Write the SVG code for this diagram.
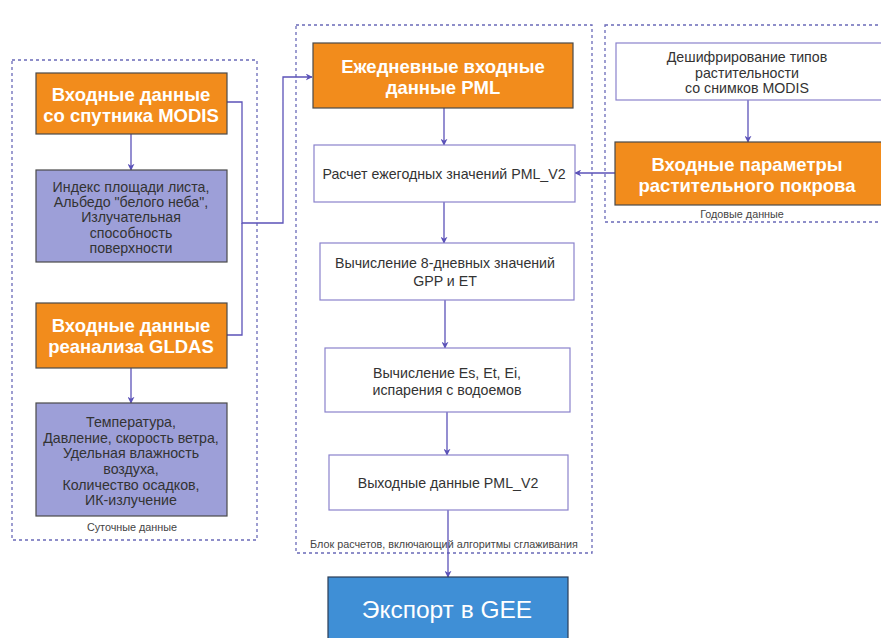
<svg xmlns="http://www.w3.org/2000/svg" width="881" height="638" viewBox="0 0 881 638">
<defs>
<style>
.grp{fill:none;stroke:#6a6ab8;stroke-width:1.3;stroke-dasharray:3,3}
.or{fill:#f28c1c;stroke:#4a4a4a;stroke-width:1.2}
.pu{fill:#9d9fd8;stroke:#4a4a4a;stroke-width:1.2}
.wh{fill:#fff;stroke:#8a82cc;stroke-width:1.2}
.bl{fill:#3f8fd6;stroke:#2b3d55;stroke-width:1.2}
.tw{font-family:"Liberation Sans",Arial,sans-serif;font-weight:bold;font-size:18.5px;fill:#fff;text-anchor:middle}
.td{font-family:"Liberation Sans",Arial,sans-serif;font-size:14.2px;fill:#333;text-anchor:middle}
.ts{font-family:"Liberation Sans",Arial,sans-serif;font-size:10.8px;fill:#444;text-anchor:middle}
.tg{font-family:"Liberation Sans",Arial,sans-serif;font-size:24.5px;fill:#fff;text-anchor:middle}
.cn{fill:none;stroke:#5b52b8;stroke-width:1.3}
</style>
<marker id="ar" viewBox="0 0 10 10" refX="9" refY="5" markerWidth="7" markerHeight="7" orient="auto" markerUnits="userSpaceOnUse">
<path d="M0,0 L10,5 L0,10 L3,5 z" fill="#5b52b8"/>
</marker>
</defs>
<rect width="881" height="638" fill="#fff"/>

<g id="group-daily">
<rect class="grp" x="12" y="60" width="245" height="480"/>
<text class="ts" x="132" y="531">Суточные данные</text>
</g>
<g id="group-calc">
<rect class="grp" x="296" y="25" width="296" height="528"/>
<text class="ts" x="444" y="548">Блок расчетов, включающий алгоритмы сглаживания</text>
</g>
<g id="group-annual">
<rect class="grp" x="605" y="25" width="290" height="197"/>
<text class="ts" x="742" y="218">Годовые данные</text>
</g>

<g id="connectors">
<path class="cn" d="M227,102 H242 V223 H283 V77 H312" marker-end="url(#ar)"/>
<path class="cn" d="M227,335 H242 V223"/>
<path class="cn" d="M131,134 V170" marker-end="url(#ar)"/>
<path class="cn" d="M131,368 V403" marker-end="url(#ar)"/>
<path class="cn" d="M444,108 V145" marker-end="url(#ar)"/>
<path class="cn" d="M444,202 V243" marker-end="url(#ar)"/>
<path class="cn" d="M445,300 V348" marker-end="url(#ar)"/>
<path class="cn" d="M447,412 V455" marker-end="url(#ar)"/>
<path class="cn" d="M448,510 V577" marker-end="url(#ar)"/>
<path class="cn" d="M748,100 V142" marker-end="url(#ar)"/>
<path class="cn" d="M615,173 H575" marker-end="url(#ar)"/>
</g>

<g id="modis-input">
<rect class="or" x="36" y="73" width="191" height="61"/>
<text class="tw" x="131" y="101">Входные данные</text>
<text class="tw" x="131" y="122">со спутника MODIS</text>
</g>
<g id="modis-params">
<rect class="pu" x="36" y="170" width="191" height="92"/>
<text class="td" x="131" y="192">Индекс площади листа,</text>
<text class="td" x="131" y="207">Альбедо "белого неба",</text>
<text class="td" x="131" y="222">Излучательная</text>
<text class="td" x="131" y="238">способность</text>
<text class="td" x="131" y="253">поверхности</text>
</g>
<g id="gldas-input">
<rect class="or" x="36" y="303" width="191" height="65"/>
<text class="tw" x="131" y="332">Входные данные</text>
<text class="tw" x="131" y="353">реанализа GLDAS</text>
</g>
<g id="gldas-params">
<rect class="pu" x="36" y="403" width="191" height="113"/>
<text class="td" x="131" y="427">Температура,</text>
<text class="td" x="131" y="443">Давление, скорость ветра,</text>
<text class="td" x="131" y="458">Удельная влажность</text>
<text class="td" x="131" y="474">воздуха,</text>
<text class="td" x="131" y="490">Количество осадков,</text>
<text class="td" x="131" y="505">ИК-излучение</text>
</g>

<g id="pml-daily">
<rect class="or" x="313" y="43" width="260" height="65"/>
<text class="tw" x="443" y="73">Ежедневные входные</text>
<text class="tw" x="443" y="94">данные PML</text>
</g>
<g id="calc-annual">
<rect class="wh" x="314" y="145" width="261" height="57"/>
<text class="td" x="444" y="179">Расчет ежегодных значений PML_V2</text>
</g>
<g id="calc-8day">
<rect class="wh" x="320" y="243" width="254" height="57"/>
<text class="td" x="445" y="268">Вычисление 8-дневных значений</text>
<text class="td" x="445" y="286">GPP и ET</text>
</g>
<g id="calc-es">
<rect class="wh" x="325" y="348" width="245" height="64"/>
<text class="td" x="447" y="378">Вычисление Es, Et, Ei,</text>
<text class="td" x="447" y="395">испарения с водоемов</text>
</g>
<g id="pml-output">
<rect class="wh" x="329" y="455" width="239" height="55"/>
<text class="td" x="448" y="488">Выходные данные PML_V2</text>
</g>
<g id="export-gee">
<rect class="bl" x="328" y="577" width="240" height="70"/>
<text class="tg" x="447" y="618">Экспорт в GEE</text>
</g>

<g id="veg-classify">
<rect class="wh" x="616" y="43" width="266" height="57"/>
<text class="td" x="747" y="62">Дешифрирование типов</text>
<text class="td" x="747" y="78">растительности</text>
<text class="td" x="747" y="93">со снимков MODIS</text>
</g>
<g id="veg-params">
<rect class="or" x="615" y="142" width="268" height="63"/>
<text class="tw" x="747" y="171">Входные параметры</text>
<text class="tw" x="747" y="192">растительного покрова</text>
</g>
</svg>
